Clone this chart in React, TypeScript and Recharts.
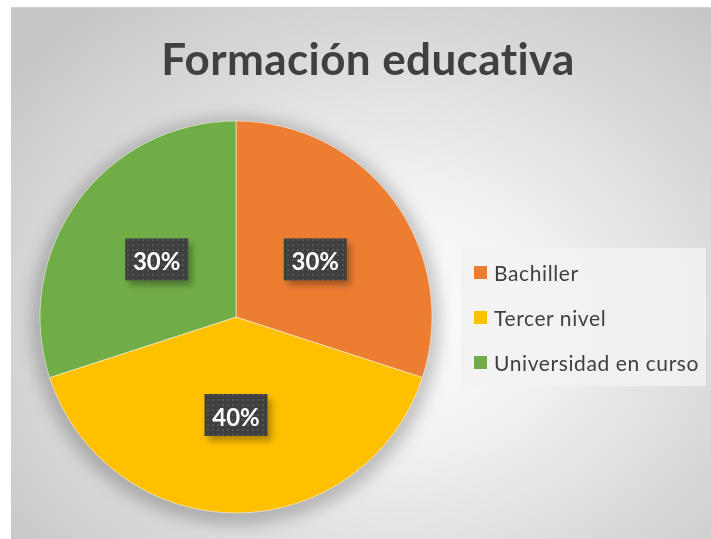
import { PieChart, Pie, Cell, Legend } from 'recharts';

const categories = ['Bachiller', 'Tercer nivel', 'Universidad en curso'];
const shares = [30, 40, 30];
const colors = ['#ED7D31', '#FFC000', '#70AD47'];

const data = categories.map((name, i) => ({ name, value: shares[i] }));

const RAD = Math.PI / 180;

function renderLabel(props: any) {
  const { cx, cy, midAngle, outerRadius, percent } = props;
  const r = outerRadius * 0.5;
  const x = cx + r * Math.cos(-midAngle * RAD);
  const y = cy + r * Math.sin(-midAngle * RAD);
  const w = 63;
  const h = 42;
  return (
    <g>
      <rect x={x - w / 2 + 4} y={y - h / 2 + 5} width={w} height={h} fill="rgba(0,0,0,0.3)" filter="url(#lblShadow)" />
      <rect x={x - w / 2} y={y - h / 2} width={w} height={h} fill="url(#dots)" />
      <text
        x={x}
        y={y + 1}
        fill="#fff"
        textAnchor="middle"
        dominantBaseline="central"
        style={{ fontFamily: 'Lato, sans-serif', fontWeight: 700, fontSize: 24 }}
      >
        {`${Math.round(percent * 100)}%`}
      </text>
    </g>
  );
}

function LegendBox() {
  return (
    <div
      style={{
        background: 'rgba(242,242,242,0.85)',
        padding: '2px 0 1px 13px',
        width: 232,
        whiteSpace: 'nowrap',
      }}
    >
      {categories.map((c, i) => (
        <div key={c} style={{ display: 'flex', alignItems: 'center', height: 45 }}>
          <span style={{ width: 13, height: 13, flex: 'none', background: colors[i], display: 'inline-block', marginRight: 7 }} />
          <span style={{ fontFamily: 'Lato, sans-serif', fontSize: 21, letterSpacing: 0.6, color: '#404040' }}>{c}</span>
        </div>
      ))}
    </div>
  );
}

export default function App() {
  return (
    <div
      style={{
        position: 'fixed',
        left: 11,
        top: 7,
        width: 700,
        height: 532,
        background: 'radial-gradient(ellipse 70% 75% at 55% 58%, #ffffff 0%, #f0f0f0 35%, #d9d9d9 70%, #c6c6c6 100%)',
        borderTop: '1px solid #d0d0d0',
        boxSizing: 'border-box',
        overflow: 'hidden',
      }}
    >
      <div
        style={{
          position: 'absolute',
          left: 0,
          width: 714,
          top: 24,
          textAlign: 'center',
          fontFamily: 'Lato, sans-serif',
          fontWeight: 700,
          fontSize: 44,
          letterSpacing: 0.4,
          color: '#404040',
        }}
      >
        Formación educativa
      </div>
      <PieChart
        width={700}
        height={532}
        margin={{ top: 0, right: 0, bottom: 0, left: 0 }}
        style={{ position: 'absolute', left: 0, top: 0 }}
      >
        <defs>
          <pattern id="dots" width="5" height="5" patternUnits="userSpaceOnUse">
            <rect width="5" height="5" fill="#3f3f3f" />
            <rect x="1" y="1" width="2" height="2" fill="#545454" />
          </pattern>
          <filter id="lblShadow" x="-20%" y="-20%" width="140%" height="140%">
            <feGaussianBlur stdDeviation="3" />
          </filter>
          <filter id="pieShadow" x="-20%" y="-20%" width="140%" height="140%">
            <feGaussianBlur stdDeviation="8" />
          </filter>
        </defs>
        <Pie
          data={data}
          dataKey="value"
          cx={225}
          cy={313}
          outerRadius={204}
          startAngle={90}
          endAngle={-270}
          fill="rgba(0,0,0,0.22)"
          stroke="none"
          isAnimationActive={false}
          style={{ filter: 'url(#pieShadow)' }}
          legendType="none"
        />
        <Pie
          data={data}
          dataKey="value"
          nameKey="name"
          cx={225}
          cy={309}
          outerRadius={196}
          startAngle={90}
          endAngle={-270}
          stroke="rgba(255,255,255,0.5)"
          strokeWidth={1}
          label={renderLabel}
          labelLine={false}
          isAnimationActive={false}
        >
          {data.map((d, i) => (
            <Cell key={d.name} fill={colors[i]} />
          ))}
        </Pie>
        <Legend
          content={() => <LegendBox />}
          wrapperStyle={{ position: 'absolute', left: 450, top: 240, width: 245 }}
        />
      </PieChart>
    </div>
  );
}
